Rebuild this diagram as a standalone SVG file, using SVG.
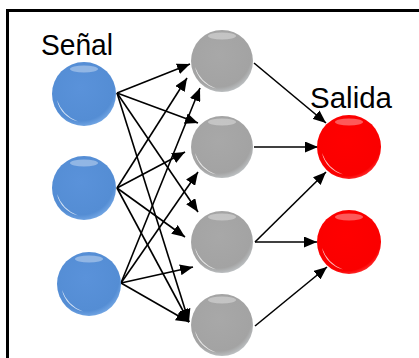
<svg xmlns="http://www.w3.org/2000/svg" xmlns:xlink="http://www.w3.org/1999/xlink" width="419" height="358" viewBox="0 0 419 358">
  <style>
    .label { font-family: "Liberation Sans", Arial, sans-serif; font-size: 29px; fill: #000; }
    .edge { stroke: #000; stroke-width: 1.6; fill: none; marker-end: url(#arrow); }
    .frame { fill: none; stroke: #000; stroke-width: 3; }
  </style>
  <defs>
    <marker id="arrow" markerUnits="userSpaceOnUse" markerWidth="13" markerHeight="11" refX="13" refY="5.5" orient="auto">
      <path d="M0,0 L13,5.5 L0,11 z" fill="#000"/>
    </marker>
    <radialGradient id="blueFill" cx="0.45" cy="0.4" r="0.65">
      <stop offset="0" stop-color="#5A92DA"/>
      <stop offset="0.8" stop-color="#548DD4"/>
      <stop offset="1" stop-color="#7FB0EA"/>
    </radialGradient>
    <radialGradient id="grayFill" cx="0.45" cy="0.4" r="0.65">
      <stop offset="0" stop-color="#A8A8A8"/>
      <stop offset="0.8" stop-color="#A3A3A3"/>
      <stop offset="1" stop-color="#C8CDD0"/>
    </radialGradient>
    <radialGradient id="redFill" cx="0.45" cy="0.4" r="0.65">
      <stop offset="0" stop-color="#FF0000"/>
      <stop offset="0.85" stop-color="#FA0000"/>
      <stop offset="1" stop-color="#FF4A4A"/>
    </radialGradient>
    <!-- glossy reflections, drawn around the sphere centre -->
    <g id="gloss">
      <path d="M-27,6 A28,28 0 0 0 -6,27.5 A36,36 0 0 1 -27,6 z" fill="#fff" opacity="0.75"/>
      <ellipse cx="0" cy="-25" rx="14" ry="3.5" fill="#fff" opacity="0.35"/>
    </g>
  </defs>

  <rect class="frame" x="7.5" y="10.5" width="430" height="370"/>

  <g id="connectors">
    <!-- input layer to hidden layer -->
    <line class="edge" x1="117" y1="93" x2="190" y2="64"/>
    <line class="edge" x1="117" y1="188" x2="187" y2="78"/>
    <line class="edge" x1="121" y1="283" x2="200" y2="88"/>
    <line class="edge" x1="117" y1="93" x2="198" y2="123"/>
    <line class="edge" x1="117" y1="188" x2="185" y2="152"/>
    <line class="edge" x1="121" y1="283" x2="198" y2="172"/>
    <line class="edge" x1="117" y1="93" x2="198" y2="212"/>
    <line class="edge" x1="117" y1="188" x2="185" y2="237"/>
    <line class="edge" x1="121" y1="283" x2="193" y2="267"/>
    <line class="edge" x1="117" y1="93" x2="189" y2="322"/>
    <line class="edge" x1="117" y1="188" x2="189" y2="322"/>
    <line class="edge" x1="121" y1="283" x2="189" y2="322"/>
    <!-- hidden layer to output layer -->
    <line class="edge" x1="254" y1="63" x2="326" y2="123"/>
    <line class="edge" x1="254" y1="147" x2="318" y2="147"/>
    <line class="edge" x1="255" y1="242" x2="326" y2="172"/>
    <line class="edge" x1="255" y1="242" x2="317" y2="242"/>
    <line class="edge" x1="255" y1="326" x2="327" y2="267"/>
  </g>

  <g id="input-1"><circle cx="84" cy="94" r="32" fill="url(#blueFill)"/><use xlink:href="#gloss" x="84" y="94"/></g>
  <g id="input-2"><circle cx="84" cy="188" r="32" fill="url(#blueFill)"/><use xlink:href="#gloss" x="84" y="188"/></g>
  <g id="input-3"><circle cx="89" cy="284" r="32" fill="url(#blueFill)"/><use xlink:href="#gloss" x="89" y="284"/></g>

  <g id="hidden-1"><circle cx="222" cy="61" r="31" fill="url(#grayFill)"/><use xlink:href="#gloss" x="222" y="61"/></g>
  <g id="hidden-2"><circle cx="222" cy="147" r="31" fill="url(#grayFill)"/><use xlink:href="#gloss" x="222" y="147"/></g>
  <g id="hidden-3"><circle cx="222" cy="242" r="31" fill="url(#grayFill)"/><use xlink:href="#gloss" x="222" y="242"/></g>
  <g id="hidden-4"><circle cx="222" cy="325" r="31" fill="url(#grayFill)"/><use xlink:href="#gloss" x="222" y="325"/></g>

  <g id="output-1"><circle cx="349" cy="147" r="32" fill="url(#redFill)"/><use xlink:href="#gloss" x="349" y="147"/></g>
  <g id="output-2"><circle cx="349" cy="242" r="32" fill="url(#redFill)"/><use xlink:href="#gloss" x="349" y="242"/></g>

  <g id="label-senal"><text class="label" x="41" y="55" textLength="72" lengthAdjust="spacingAndGlyphs">Señal</text></g>
  <g id="label-salida"><text class="label" x="310" y="108" textLength="82" lengthAdjust="spacingAndGlyphs">Salida</text></g>
</svg>
